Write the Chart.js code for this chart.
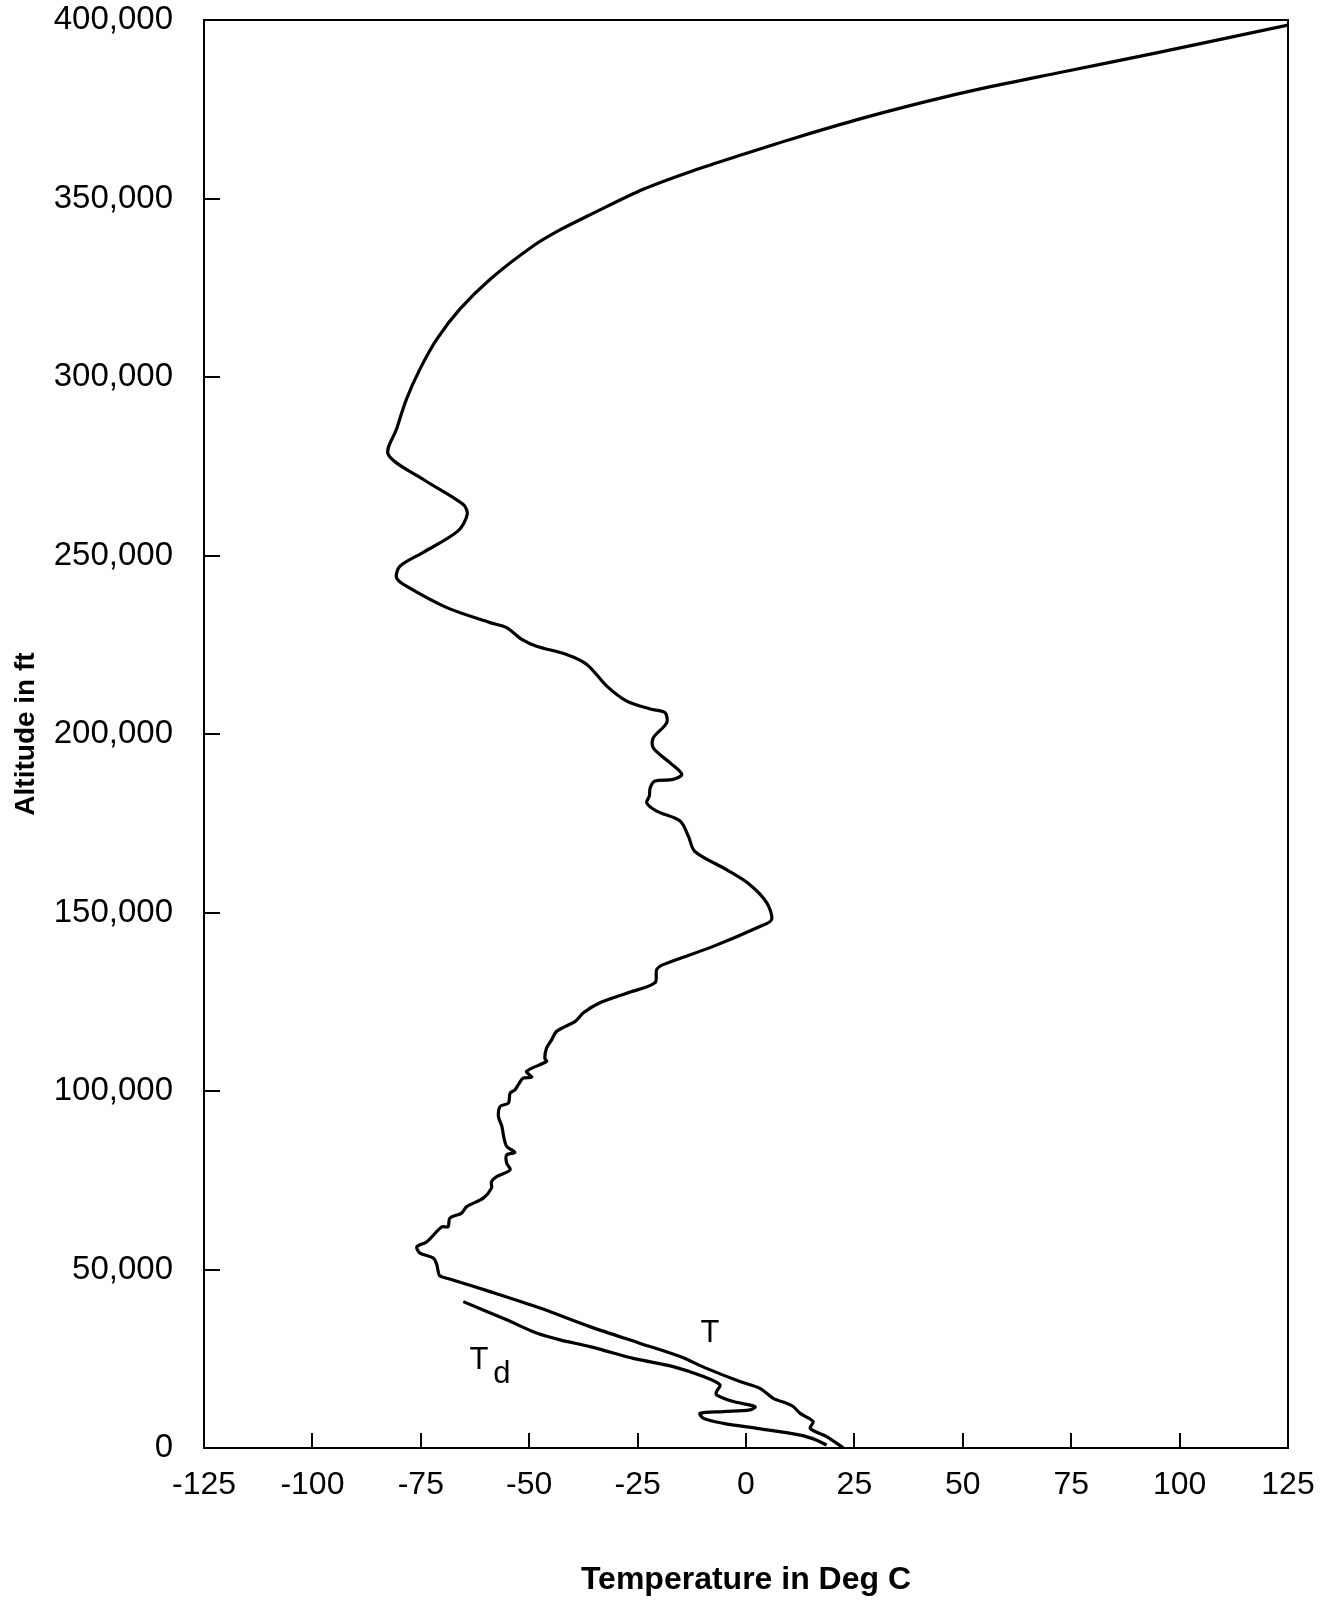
<!DOCTYPE html>
<html>
<head>
<meta charset="utf-8">
<title>Temperature profile</title>
<script src="https://cdn.jsdelivr.net/npm/chart.js@4.4.1/dist/chart.umd.min.js"></script>
<style>
  html, body { margin: 0; padding: 0; background: #fff; }
  #profile { display: block; }
</style>
</head>
<body>
<canvas id="profile" width="1330" height="1602"></canvas>
<script>
// Air temperature T (deg C) against altitude (ft)
const tempT = [
    22.5, 18.6, 14.8, 15.5, 12.5, 10.9, 9.4, 6.3, 3.2, -1.4,
    -9.1, -15.2, -24.4, -36.0, -47.5, -59.0, -68.0, -70.6, -71.0, -71.3,
    -72.1, -75.2, -75.9, -73.6, -70.2, -68.7, -68.3, -65.6, -64.4, -60.6,
    -58.7, -58.7, -57.5, -54.4, -55.2, -55.2, -53.3, -55.2, -55.9, -56.3,
    -57.1, -56.7, -54.8, -54.4, -53.3, -52.5, -51.4, -49.4, -50.6, -46.0,
    -46.4, -46.0, -44.8, -43.7, -39.4, -37.5, -33.7, -27.5, -21.0, -20.6,
    -19.1, -8.0, 3.2, 5.9, 4.8, 0.9, -4.5, -11.8, -13.3, -15.2,
    -20.6, -22.9, -22.3, -22.1, -21.0, -16.8, -14.8, -17.5, -21.4, -21.4,
    -18.3, -18.7, -22.1, -27.5, -32.1, -36.7, -41.4, -48.3, -51.7, -55.2,
    -59.0, -69.0, -78.3, -80.6, -79.8, -74.4, -66.4, -64.3, -65.2, -74.4,
    -82.5, -80.6, -78.3, -75.2, -71.3, -66.0, -59.0, -49.1, -42.6, -35.2,
    -23.7, -12.2, -0.6, 11.7, 26.3, 41.7, 54.0, 72.4, 95.5, 125.0
];
const altT = [
    0, 3200, 5500, 7400, 9700, 11600, 12500, 13900, 16700, 18600,
    22300, 25600, 29300, 34000, 39200, 43800, 47200, 48200, 49500, 51300,
    53200, 54600, 56400, 57800, 61900, 62000, 64400, 65800, 67600, 70000,
    72800, 74600, 76000, 77900, 79800, 82100, 82800, 84500, 87300, 90100,
    92900, 95700, 96600, 99400, 100300, 101800, 103600, 103900, 105500, 108300,
    109200, 112000, 114400, 116700, 119500, 121900, 124700, 127400, 130300, 134000,
    135400, 140300, 146100, 148000, 152700, 157800, 162000, 167100, 171400, 175600,
    178400, 180700, 182600, 184900, 186800, 187300, 188700, 191900, 196100, 198900,
    203100, 206000, 207000, 209200, 213400, 219500, 222300, 224600, 226500, 229800,
    231200, 235400, 241400, 243800, 247000, 250900, 256900, 261500, 264300, 271300,
    278300, 285400, 293800, 302200, 310600, 319000, 327400, 336700, 341400, 345900,
    352600, 357800, 362400, 367100, 372300, 377200, 380700, 385300, 391000, 398600
];

// Dew point Td (deg C) against altitude (ft)
const tempTd = [
    18.6, 16.3, 12.5, 2.5, -5.2, -9.8, -10.6, -5.2, 0.9, 2.1,
    -2.9, -6.8, -6.8, -6.0, -9.8, -16.8, -24.4, -26.0, -36.0, -42.9,
    -48.3, -55.2, -65.2
];
const altTd = [
    800, 2200, 3600, 5500, 6900, 8300, 9700, 10200, 10700, 11600,
    13000, 14900, 15800, 17700, 20000, 22800, 24700, 25100, 28400, 30300,
    32200, 35900, 41000
];

// Axis ranges
const xMin = -125, xMax = 125, xStep = 25;
const yMin = 0, yMax = 400000, yStep = 50000;

// Curve names written inside the plot (data coordinates)
const curveLabelText = ['T', 'T', 'd'];
const curveLabelTemp = [-8.3, -61.6, -56.3];
const curveLabelAlt = [32000, 24400, 20700];

function toPoints(xs, ys) {
    return xs.map((x, i) => ({ x: x, y: ys[i] }));
}

// Box round the plot, inward tick marks and the T / Td captions
const frameAndTicks = {
    id: 'frameAndTicks',
    afterDraw(chart) {
        const { ctx, chartArea: area, scales: { x, y } } = chart;
        ctx.save();
        ctx.strokeStyle = '#000';
        ctx.lineWidth = 2;
        ctx.strokeRect(area.left, area.top, area.right - area.left, area.bottom - area.top);

        ctx.beginPath();
        x.ticks.forEach(t => {
            if (t.value <= x.min || t.value >= x.max) return;
            const px = Math.round(x.getPixelForValue(t.value));
            ctx.moveTo(px, area.bottom);
            ctx.lineTo(px, area.bottom - 15);
        });
        y.ticks.forEach(t => {
            if (t.value <= y.min || t.value >= y.max) return;
            const py = Math.round(y.getPixelForValue(t.value));
            ctx.moveTo(area.left, py);
            ctx.lineTo(area.left + 16, py);
        });
        ctx.stroke();

        ctx.fillStyle = '#000';
        ctx.font = '31px "Liberation Sans", Arial, sans-serif';
        ctx.textAlign = 'center';
        ctx.textBaseline = 'middle';
        curveLabelText.forEach((txt, i) => {
            ctx.fillText(txt, x.getPixelForValue(curveLabelTemp[i]), y.getPixelForValue(curveLabelAlt[i]));
        });
        ctx.restore();
    }
};

const ctx = document.getElementById('profile').getContext('2d');

new Chart(ctx, {
    type: 'scatter',
    data: {
        datasets: [
            {
                label: 'T',
                data: toPoints(tempT, altT),
                showLine: true,
                borderColor: '#000',
                borderWidth: 3.2,
                pointRadius: 0,
                tension: 0.3,
                fill: false
            },
            {
                label: 'Td',
                data: toPoints(tempTd, altTd),
                showLine: true,
                borderColor: '#000',
                borderWidth: 3.2,
                pointRadius: 0,
                tension: 0.3,
                fill: false
            }
        ]
    },
    options: {
        responsive: false,
        animation: false,
        layout: {
            padding: { top: 20, right: 42, bottom: 0, left: 0 }
        },
        plugins: {
            legend: { display: false },
            tooltip: { enabled: false }
        },
        scales: {
            x: {
                type: 'linear',
                min: xMin,
                max: xMax,
                afterFit: scale => {
                    scale.height = 154;
                    scale.paddingLeft = 0;
                    scale.paddingRight = 0;
                },
                grid: { display: false, drawTicks: false },
                border: { display: false },
                ticks: {
                    stepSize: xStep,
                    padding: 18,
                    color: '#000',
                    font: { family: '"Liberation Sans Narrow", "Arial Narrow", "Liberation Sans", sans-serif', size: 32 }
                },
                title: {
                    display: true,
                    text: 'Temperature in Deg C',
                    color: '#000',
                    padding: { top: 0, bottom: 3 },
                    font: { family: '"Liberation Sans", Arial, sans-serif', size: 32, weight: 'bold' }
                }
            },
            y: {
                type: 'linear',
                min: yMin,
                max: yMax,
                afterFit: scale => {
                    scale.width = 204;
                    scale.paddingTop = 0;
                    scale.paddingBottom = 0;
                },
                grid: { display: false, drawTicks: false },
                border: { display: false },
                ticks: {
                    stepSize: yStep,
                    padding: 31,
                    color: '#000',
                    font: { family: '"Liberation Sans", Arial, sans-serif', size: 33 },
                    callback: value => value.toLocaleString('en-US')
                },
                title: {
                    display: true,
                    text: 'Altitude in ft',
                    color: '#000',
                    padding: { top: 9, bottom: 0 },
                    font: { family: '"Liberation Sans", Arial, sans-serif', size: 28, weight: 'bold' }
                }
            }
        }
    },
    plugins: [frameAndTicks]
});
</script>
</body>
</html>
